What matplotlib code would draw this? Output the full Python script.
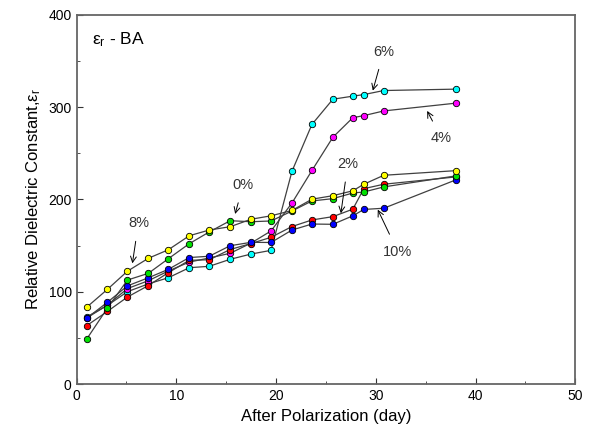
import matplotlib
matplotlib.use('Agg')
import matplotlib.pyplot as plt
from matplotlib.ticker import MultipleLocator

plt.rcParams['font.family'] = ['Liberation Sans', 'DejaVu Sans']
plt.rcParams['mathtext.fontset'] = 'custom'
plt.rcParams['mathtext.rm'] = 'Liberation Sans'
plt.rcParams['mathtext.it'] = 'Liberation Sans'

# days after polarization
days = [1.0, 3.1, 5.1, 7.2, 9.2, 11.3, 13.3, 15.4, 17.5, 19.5,
        21.6, 23.6, 25.7, 27.7, 28.8, 30.8, 38.0]

# relative dielectric constant for each BA content
er_0 = [48.5, 82.4, 112.7, 120.0, 135.8, 152.1, 164.8, 177.0, 175.9, 176.7,
        187.5, 198.4, 200.9, 207.0, 208.1, 213.6, 225.5]
er_2 = [63.2, 78.8, 94.3, 106.8, 120.7, 134.1, 134.7, 145.8, 152.3, 159.0,
        170.7, 177.8, 181.4, 189.5, 211.7, 216.5, 224.4]
er_4 = [71.5, 85.6, 103.5, 112.0, 122.5, 132.2, 136.6, 141.7, 152.8, 165.9,
        196.2, 231.4, 267.4, 288.6, 290.8, 295.9, 304.3]
er_6 = [72.6, 85.3, 100.1, 108.6, 115.2, 126.1, 127.6, 135.2, 140.9, 144.9,
        230.6, 281.3, 308.6, 311.9, 313.6, 318.0, 319.5]
er_8 = [83.1, 102.7, 122.3, 136.3, 145.5, 160.7, 166.9, 170.5, 178.6, 182.3,
        188.1, 200.3, 204.1, 209.4, 216.5, 226.2, 231.2]
er_10 = [71.2, 88.7, 106.4, 115.2, 124.3, 137.1, 138.5, 149.9, 153.6, 153.4,
         166.9, 173.4, 173.1, 182.3, 189.2, 190.5, 221.1]

series = [er_6, er_4, er_2, er_10, er_0, er_8]
colors = ['#00ffff', '#ff00ff', '#ff0000', '#0000ff', '#00e000', '#ffff00']

# label text position and arrow tip, in data coordinates
labels = ['0%', '2%', '4%', '6%', '8%', '10%']
label_xy = [(16.7, 215.7), (27.2, 238.5), (36.6, 266.3), (30.8, 360.2), (6.2, 174.2), (32.2, 143.6)]
tip_xy = [(15.9, 184.3), (26.5, 185.0), (35.15, 295.9), (29.7, 317.9), (5.6, 130.8), (30.2, 189.0)]

fig = plt.figure(figsize=(5.98, 4.36), dpi=100)
ax = fig.add_axes([0.128, 0.119, 0.834, 0.847])

for vals, c in zip(series, colors):
    ax.plot(days, vals, '-', color='#404040', lw=0.9, zorder=2)
for vals, c in zip(series, colors):
    ax.plot(days, vals, 'o', ms=4.6, mfc=c, mec='black', mew=0.6, zorder=3)

for lab, (tx, ty), (px, py) in zip(labels, label_xy, tip_xy):
    ax.annotate(lab, xy=(px, py), xytext=(tx, ty), ha='center', va='center',
                fontsize=10.5, color='#333333',
                arrowprops=dict(arrowstyle='->', color='black', lw=0.7,
                                shrinkA=6, shrinkB=0))

ax.text(0.031, 0.932, 'ε$_\\mathrm{r}$ - BA', transform=ax.transAxes,
        fontsize=12.5, ha='left', va='center')

ax.set_xlim(0, 50)
ax.set_ylim(0, 400)
ax.xaxis.set_major_locator(MultipleLocator(10))
ax.xaxis.set_minor_locator(MultipleLocator(5))
ax.yaxis.set_major_locator(MultipleLocator(100))
ax.yaxis.set_minor_locator(MultipleLocator(50))
ax.tick_params(which='both', direction='in', top=False, right=False,
               labelsize=10, color='#333333')
ax.tick_params(which='major', length=4)
ax.tick_params(which='minor', length=2.5)
for sp in ax.spines.values():
    sp.set_color('#666666')
    sp.set_linewidth(1.3)

ax.set_xlabel('After Polarization (day)', fontsize=12)
ax.set_ylabel('Relative Dielectric Constant,ε$_\\mathrm{r}$', fontsize=12)

fig.savefig('out.png', dpi=100)
